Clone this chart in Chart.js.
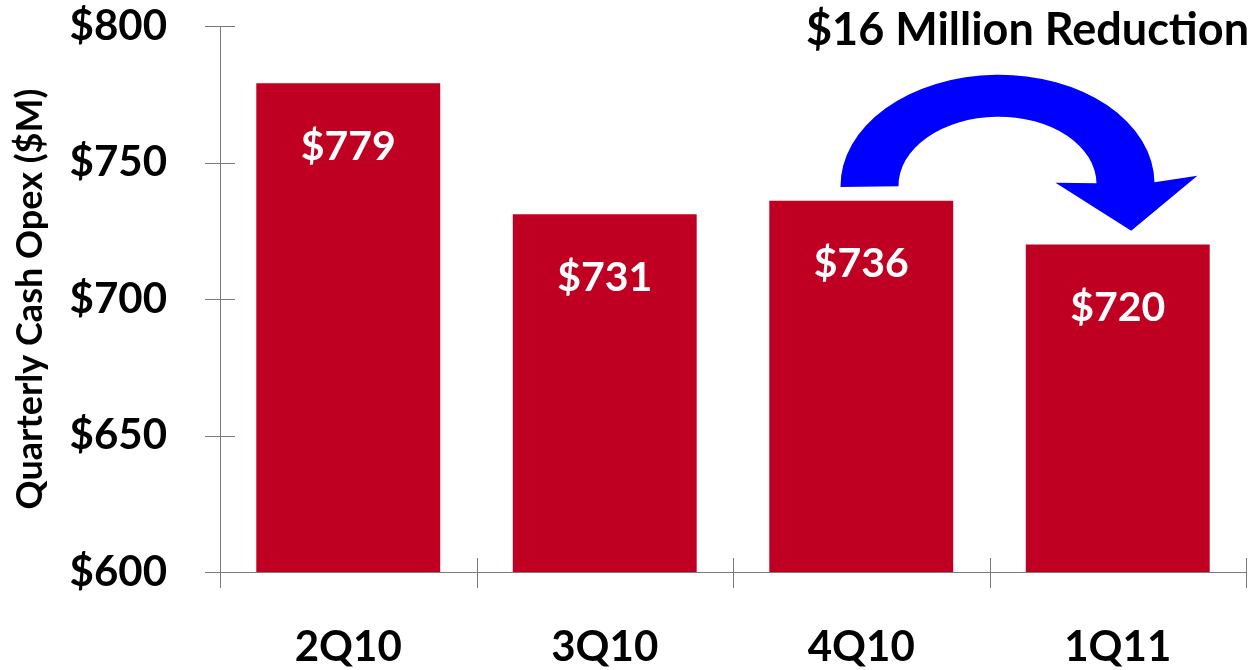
<!DOCTYPE html>
<html>
<head>
<meta charset="utf-8">
<script src="https://cdn.jsdelivr.net/npm/chart.js@4.4.1/dist/chart.umd.min.js"></script>
<style>
  html, body { margin: 0; padding: 0; background: #fff; }
</style>
</head>
<body>
<canvas id="chart" width="1258" height="670"></canvas>
<script>
// Quarterly cash opex, $M
const quarters = ['2Q10', '3Q10', '4Q10', '1Q11'];
const cashOpex = [779, 731, 736, 720];
const yMin = 600;
const yMax = 800;
const yStep = 50;
const reductionText = '$16 Million Reduction';

const BAR_RED = '#C00023';
const AXIS_GREY = '#7a7a7a';
const ARROW_BLUE = '#0000FF';
const FONT = 'Lato';

// cross-shaped tick marks on both axes
const crossTicks = {
    id: 'crossTicks',
    afterDraw(chart) {
        const ctx = chart.ctx;
        const x = chart.scales.x;
        const y = chart.scales.y;
        ctx.save();
        ctx.strokeStyle = AXIS_GREY;
        ctx.lineWidth = 1;
        ctx.beginPath();
        y.ticks.forEach(t => {
            const py = Math.round(y.getPixelForValue(t.value)) + 0.5;
            ctx.moveTo(y.right - 15, py);
            ctx.lineTo(y.right + 15, py);
        });
        const n = quarters.length;
        for (let i = 0; i <= n; i++) {
            const px = Math.round(x.left + i * x.width / n) + 0.5;
            ctx.moveTo(px, x.top - 14);
            ctx.lineTo(px, x.top + 16);
        }
        ctx.stroke();
        ctx.restore();
    }
};

// white value labels inside the bars
const barLabels = {
    id: 'barLabels',
    afterDatasetsDraw(chart) {
        const ctx = chart.ctx;
        const meta = chart.getDatasetMeta(0);
        ctx.save();
        ctx.fillStyle = '#ffffff';
        ctx.font = 'bold 41px ' + FONT;
        ctx.textAlign = 'center';
        ctx.textBaseline = 'middle';
        meta.data.forEach((bar, i) => {
            ctx.fillText('$' + cashOpex[i], bar.x, bar.y + 63);
        });
        ctx.restore();
    }
};

// curved arrow from 4Q10 to 1Q11 with the reduction caption
const reductionArrow = {
    id: 'reductionArrow',
    afterDraw(chart) {
        const ctx = chart.ctx;
        const x = chart.scales.x;
        const y = chart.scales.y;
        const cx = (x.getPixelForValue(2) + x.getPixelForValue(3)) / 2 + 8;
        const cy = y.getPixelForValue(cashOpex[2]) - 16;

        ctx.save();
        ctx.translate(cx, cy);
        ctx.rotate(-0.015);
        ctx.fillStyle = ARROW_BLUE;
        ctx.beginPath();
        ctx.ellipse(0, 0, 157, 110, 0, Math.PI, 2 * Math.PI);
        ctx.lineTo(200, -6);
        ctx.lineTo(133, 48);
        ctx.lineTo(58, -1);
        ctx.ellipse(0, 0, 99, 68, 0, 2 * Math.PI, Math.PI, true);
        ctx.closePath();
        ctx.fill();
        ctx.restore();

        ctx.save();
        ctx.fillStyle = '#000000';
        ctx.font = 'bold 45px ' + FONT;
        ctx.textAlign = 'center';
        ctx.textBaseline = 'alphabetic';
        ctx.fillText(reductionText, cx + 30, 45);
        ctx.restore();
    }
};

new Chart(document.getElementById('chart').getContext('2d'), {
    type: 'bar',
    data: {
        labels: quarters,
        datasets: [{
            data: cashOpex,
            backgroundColor: BAR_RED,
            borderWidth: 0,
            categoryPercentage: 1,
            barPercentage: 0.717
        }]
    },
    options: {
        responsive: false,
        animation: false,
        devicePixelRatio: 1,
        layout: { padding: { top: 26, right: 12, left: 0, bottom: 0 } },
        plugins: {
            legend: { display: false },
            tooltip: { enabled: false }
        },
        scales: {
            x: {
                grid: { display: false, drawTicks: false },
                border: { color: AXIS_GREY, width: 1 },
                ticks: {
                    color: '#000000',
                    font: { family: FONT, size: 42, weight: 'bold' },
                    padding: 50,
                    maxRotation: 0
                },
                afterFit(scale) {
                    scale.height = 98;
                    scale.paddingLeft = 0;
                    scale.paddingRight = 0;
                }
            },
            y: {
                min: yMin,
                max: yMax,
                grid: { display: false, drawTicks: false },
                border: { color: AXIS_GREY, width: 1 },
                ticks: {
                    stepSize: yStep,
                    color: '#000000',
                    font: { family: FONT, size: 42, weight: 'bold' },
                    padding: 53,
                    callback: v => '$' + v
                },
                title: {
                    display: true,
                    text: 'Quarterly Cash Opex ($M)',
                    color: '#000000',
                    font: { family: FONT, size: 36, weight: 'bold' },
                    padding: { top: 9, bottom: 0 }
                },
                afterFit(scale) {
                    scale.width = 220;
                    scale.paddingTop = 0;
                    scale.paddingBottom = 0;
                }
            }
        }
    },
    plugins: [crossTicks, barLabels, reductionArrow]
});
</script>
</body>
</html>
